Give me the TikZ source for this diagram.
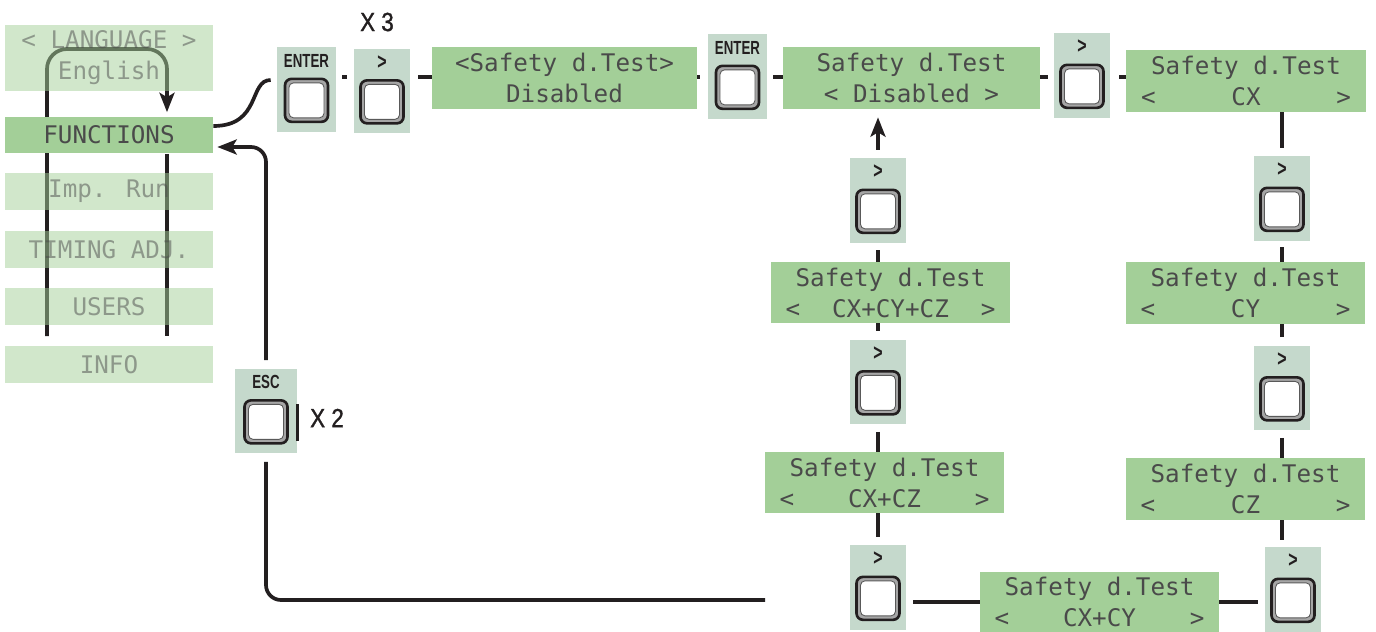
\documentclass[tikz,border=0pt]{standalone}
\usepackage{fontspec}
\usetikzlibrary{arrows.meta,calc}
\newfontfamily\lcdfont{DejaVu Sans Mono}
\newfontfamily\labfont[FakeStretch=0.85,FakeBold=1.2]{Liberation Sans}
\newfontfamily\keyfont[FakeStretch=0.7]{Liberation Sans}
\definecolor{lcdgreen}{HTML}{A3CF98}
\definecolor{keybg}{HTML}{C5D9CC}
\definecolor{ink}{HTML}{231F20}
\definecolor{lcdink}{HTML}{4A4A4A}
\pgfdeclarelayer{bg}
\pgfsetlayers{bg,main}
\tikzset{
 conn/.style={draw=ink, line width=2.1pt},
 tip/.style={-{Stealth[length=11pt,width=8.5pt,inset=2.5pt]}},
 lcd/.style={rectangle, fill=lcdgreen, inner sep=0pt, align=center, text=lcdink,
   font=\lcdfont\fontsize{13.8pt}{17.6pt}\selectfont},
 menu/.style={lcd, minimum width=4.16cm, minimum height=0.74cm},
 pale/.style={menu, fill opacity=0.5, text opacity=0.5},
 keypanel/.style={rectangle, fill=keybg, inner sep=0pt, minimum width=1.12cm, minimum height=1.7cm},
 keylabel/.style={inner sep=0pt, text=ink, font=\keyfont\bfseries\fontsize{10.8pt}{11pt}\selectfont},
 keyouter/.style={rectangle, rounded corners=0.13cm, draw=ink, line width=1.5pt, fill=black!35,
   minimum width=0.86cm, minimum height=0.86cm, inner sep=0pt},
 keyinner/.style={rectangle, rounded corners=0.09cm, draw=black!65, line width=0.5pt, fill=white,
   minimum width=0.7cm, minimum height=0.7cm, inner sep=0pt},
 bigtext/.style={inner sep=0pt, text=ink, font=\labfont\fontsize{15pt}{16pt}\selectfont},
}
\newcommand\mkkey[5]{%
 \node[keypanel, minimum width=#4] (#1) at (#2,#3) {};
 \node[keylabel] (#1-lab) at ($(#1.north)+(0,14)$) {#5};
 \node[keyouter] (#1-btn) at ($(#1.south)+(0,-32)$) {};
 \node[keyinner] (#1-in) at (#1-btn.center) {};
}
\newcommand\gtlab{\fontsize{13pt}{13pt}\selectfont >}
\newcommand\selline[1]{\makebox[4.2cm]{<\hfill#1\hfill>}}
\begin{document}
\begin{tikzpicture}[x=0.02cm, y=-0.02cm]
\useasboundingbox (0,0) rectangle (1376,632);

% left menu
\node[pale, minimum height=1.32cm] (lang) at (109,58) {< LANGUAGE >\\English};
\node[menu] (func) at (109,135) {FUNCTIONS};
\node[pale] (imp) at (109,191.5) {Imp. Run};
\node[pale] (timing) at (109,249.5) {TIMING ADJ.};
\node[pale] (users) at (109,306.5) {USERS};
\node[pale] (info) at (109,364.5) {INFO};
\coordinate (loopL) at (47,336);
\coordinate (loopR) at (167,336);

% top row
\coordinate (row) at (0,77);
\mkkey{enterA}{306.5}{89.5}{1.18cm}{ENTER}
\mkkey{nextA}{382}{91}{1.12cm}{\gtlab}
\node[lcd, minimum width=5.3cm, minimum height=1.24cm] (dispA) at (564.5,78) {<Safety d.Test>\\Disabled};
\mkkey{enterB}{737.5}{76.5}{1.18cm}{ENTER}
\node[lcd, minimum width=5.14cm, minimum height=1.24cm] (dispB) at (911.5,78) {Safety d.Test\\< Disabled >};
\mkkey{nextB}{1082}{75.5}{1.12cm}{\gtlab}
\node[lcd, minimum width=4.8cm, minimum height=1.24cm] (dispCX) at (1246,81) {Safety d.Test\\\selline{CX}};

% right column
\mkkey{nextF}{1282}{198.5}{1.12cm}{\gtlab}
\node[lcd, minimum width=4.78cm, minimum height=1.24cm] (dispCY) at (1245.5,293) {Safety d.Test\\\selline{CY}};
\mkkey{nextE}{1282}{388}{1.12cm}{\gtlab}
\node[lcd, minimum width=4.78cm, minimum height=1.24cm] (dispCZ) at (1245.5,489) {Safety d.Test\\\selline{CZ}};
\mkkey{nextD}{1293}{589.5}{1.12cm}{\gtlab}
\node[lcd, minimum width=4.78cm, minimum height=1.2cm] (dispXY) at (1099.5,602) {Safety d.Test\\\selline{CX+CY}};

% middle column
\mkkey{nextC}{878}{587.5}{1.12cm}{\gtlab}
\node[lcd, minimum width=4.78cm, minimum height=1.22cm] (dispXZ) at (884.5,482.5) {Safety d.Test\\\selline{CX+CZ}};
\mkkey{nextBB}{878}{382}{1.12cm}{\gtlab}
\node[lcd, minimum width=4.78cm, minimum height=1.22cm] (dispXYZ) at (890.5,292.5) {Safety d.Test\\\selline{CX+CY+CZ}};
\mkkey{nextAA}{878}{200.5}{1.12cm}{\gtlab}

% ESC
\mkkey{esc}{266}{411}{1.24cm}{ESC}
\draw[ink, line width=1.6pt] (297.5,404) -- (297.5,441);
\coordinate (escEnd) at (765,600);

\node[bigtext] (x3) at (377,22) {X 3};
\node[bigtext] (x2) at (327,418) {X 2};

\begin{pgfonlayer}{bg}
 \draw[conn, tip, rounded corners=0.4cm] (loopL) |- (167,49) -- ($(func.north -| loopR)+(0,-4)$);
 \draw[conn] (func.south -| loopR) -- (loopR);
 \draw[conn] ($(func.east)+(0,-9)$) .. controls +(48,0) and +(-22,0) .. ($(enterA.west)+(-6,-9.5)$);
 \draw[conn, tip, rounded corners=0.3cm, shorten <=0.16cm] (esc.north) |- ($(func.east)+(4,12)$);
 \draw[conn, rounded corners=0.3cm, shorten <=0.16cm] (esc.south) |- (escEnd);

 \draw[conn, shorten <=0.12cm, shorten >=0.14cm] (enterA.east |- row) -- (nextA.west |- row);
 \draw[conn, shorten <=0.16cm] (nextA.east |- row) -- (dispA.west |- row);
 \draw[conn, shorten >=0.16cm] (dispA.east |- row) -- (enterB.west |- row);
 \draw[conn, shorten <=0.12cm] (enterB.east |- row) -- (dispB.west |- row);
 \draw[conn, shorten >=0.12cm] (dispB.east |- row) -- (nextB.west |- row);
 \draw[conn, shorten <=0.18cm] (nextB.east |- row) -- (dispCX.west |- row);

 \draw[conn, tip, shorten <=0.16cm, shorten >=0.16cm] (nextAA.north) -- (nextAA.north |- dispB.south);
 \draw[conn, shorten <=0.14cm] (nextAA.south) -- (nextAA.south |- dispXYZ.north);
 \draw[conn, shorten >=0.16cm] (nextBB.north |- dispXYZ.south) -- (nextBB.north);
 \draw[conn, shorten <=0.14cm] (nextBB.south) -- (nextBB.south |- dispXZ.north);
 \draw[conn, shorten >=0.16cm] (nextC.north |- dispXZ.south) -- (nextC.north);
 \draw[conn, shorten <=0.14cm] (nextC.east |- dispXY.west) -- (dispXY.west);
 \draw[conn, shorten >=0.14cm] (dispXY.east) -- (dispXY.east -| nextD.west);
 \draw[conn, shorten <=0.14cm] (nextD.north -| nextE) -- (nextE |- dispCZ.south);
 \draw[conn, shorten <=0.14cm] (nextE.south) -- (nextE.south |- dispCZ.north);
 \draw[conn, shorten <=0.16cm] (nextE.north) -- (nextE.north |- dispCY.south);
 \draw[conn, shorten <=0.12cm] (nextF.south) -- (nextF.south |- dispCY.north);
 \draw[conn, shorten <=0.16cm] (nextF.north) -- (nextF.north |- dispCX.south);
\end{pgfonlayer}
\end{tikzpicture}
\end{document}
